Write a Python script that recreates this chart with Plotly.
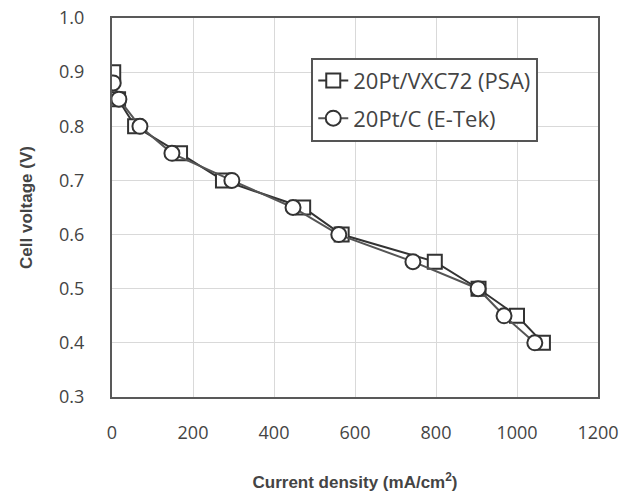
import plotly.graph_objects as go

x_psa = [3, 15, 57, 168, 274, 472, 567, 797, 905, 1000, 1064]
y_psa = [0.90, 0.85, 0.80, 0.75, 0.70, 0.65, 0.60, 0.55, 0.50, 0.45, 0.40]
x_etek = [3, 17, 69, 148, 296, 447, 560, 743, 904, 968, 1044]
y_etek = [0.88, 0.85, 0.80, 0.75, 0.70, 0.65, 0.60, 0.55, 0.50, 0.45, 0.40]
name_psa = "20Pt/VXC72 (PSA)"
name_etek = "20Pt/C (E-Tek)"

fig = go.Figure()
fig.add_trace(go.Scatter(x=x_psa, y=y_psa, name=name_psa, mode="lines+markers",
                         legendgroup="a",
                         line=dict(color="#333333", width=2),
                         marker=dict(symbol="square", size=14, color="white",
                                     line=dict(color="#333333", width=2))))
fig.add_trace(go.Scatter(x=x_etek, y=y_etek, name=name_etek, mode="lines+markers",
                         legendgroup="b",
                         line=dict(color="#555555", width=2),
                         marker=dict(symbol="circle", size=15, color="white",
                                     line=dict(color="#333333", width=2))))

fig.update_layout(
    width=619, height=495,
    margin=dict(l=112, r=21, t=18, b=98),
    paper_bgcolor="white", plot_bgcolor="white",
    font=dict(family="Open Sans, Arial", color="#444444", size=18),
    showlegend=True,
    legend=dict(x=0.41, y=0.895, xanchor="left", yanchor="top",
                bordercolor="#555555", borderwidth=2, bgcolor="white",
                font=dict(size=22, color="#444444"), tracegroupgap=6,
                itemwidth=30),
    xaxis=dict(range=[0, 1200], dtick=200, showgrid=True, gridcolor="#d9d9d9",
               gridwidth=1, zeroline=False, showline=True, linecolor="#595959",
               linewidth=2, mirror=True, ticks="", tickfont=dict(size=18),
               ticklabelstandoff=18, automargin=False,
               title=dict(text="<b>Current density (mA/cm<sup>2</sup>)</b>",
                          font=dict(family="Arial", size=17, color="#444444"),
                          standoff=34)),
    yaxis=dict(range=[0.3, 1.0], dtick=0.1, tickformat=".1f", showgrid=True,
               gridcolor="#d9d9d9", gridwidth=1, zeroline=False, showline=True,
               linecolor="#595959", linewidth=2, mirror=True, ticks="",
               tickfont=dict(size=18), ticklabelstandoff=22, automargin=False,
               title=dict(text="<b>Cell voltage (V)</b>",
                          font=dict(family="Arial", size=17, color="#444444"),
                          standoff=22)),
)

fig.write_html("out.html")
